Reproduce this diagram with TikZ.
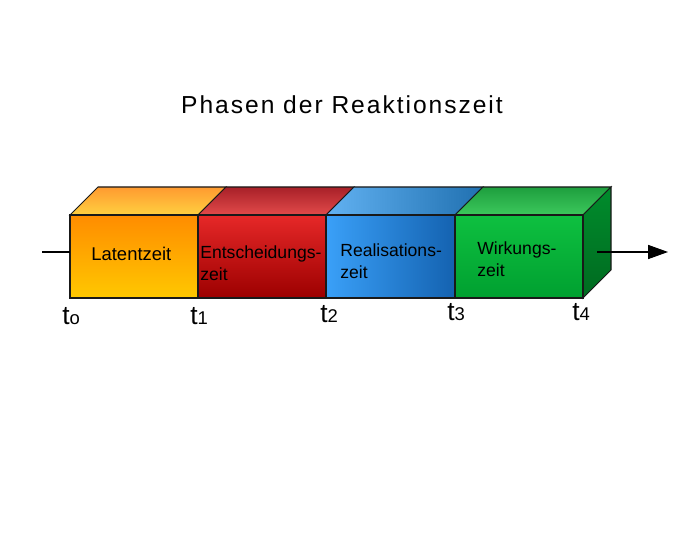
\documentclass[tikz,border=0pt]{standalone}
\usepackage{fontspec}
\setmainfont{Liberation Sans}
\newfontfamily\titlefont[LetterSpace=8]{Liberation Sans}
\usetikzlibrary{arrows.meta}

\definecolor{latentA}{HTML}{FF8C00}
\definecolor{latentB}{HTML}{FFC800}
\definecolor{latentTopA}{HTML}{FF9A30}
\definecolor{latentTopB}{HTML}{FFD040}
\definecolor{entA}{HTML}{E62828}
\definecolor{entB}{HTML}{9C0000}
\definecolor{entTopA}{HTML}{A82028}
\definecolor{entTopB}{HTML}{E24A4A}
\definecolor{realA}{HTML}{3AA0F8}
\definecolor{realB}{HTML}{1462B0}
\definecolor{realTopA}{HTML}{62B2F2}
\definecolor{realTopB}{HTML}{2070B0}
\definecolor{wirkA}{HTML}{0EC040}
\definecolor{wirkB}{HTML}{00A030}
\definecolor{wirkTopA}{HTML}{1E9E3E}
\definecolor{wirkTopB}{HTML}{3CC85C}
\definecolor{wirkSideA}{HTML}{008C2C}
\definecolor{wirkSideB}{HTML}{006A20}

\tikzset{
  face/.style={draw=black!90, line width=0.6pt},
  phase/.style={anchor=north west, inner sep=0pt, align=left, font=\fontsize{10}{12.5}\selectfont},
  tmark/.style={anchor=base west, inner sep=0pt, font=\fontsize{15}{15}\selectfont},
}
\newcommand{\tsub}[1]{t{\fontsize{10.5}{10.5}\selectfont #1}}

\begin{document}
\begin{tikzpicture}[x=0.02cm, y=-0.02cm]
\useasboundingbox (0,0) rectangle (694,540);

\node[font=\titlefont\fontsize{14}{14}\selectfont] (title) at (342,105) {Phasen der Reaktionszeit};

% top faces
\shadedraw[face, top color=latentTopA, bottom color=latentTopB] (70,215) -- (98,187) -- (226,187) -- (198,215) -- cycle;
\shadedraw[face, top color=entTopA, bottom color=entTopB] (198,215) -- (226,187) -- (354,187) -- (326,215) -- cycle;
\shadedraw[face, left color=realTopA, right color=realTopB] (326,215) -- (354,187) -- (483,187) -- (455,215) -- cycle;
\shadedraw[face, top color=wirkTopA, bottom color=wirkTopB] (455,215) -- (483,187) -- (611,187) -- (583,215) -- cycle;

% right side
\shadedraw[face, top color=wirkSideA, bottom color=wirkSideB] (583,215) -- (611,187) -- (611,270) -- (583,298) -- cycle;

% front faces
\shadedraw[face, top color=latentA, bottom color=latentB] (70,215) rectangle (198,298);
\shadedraw[face, top color=entA, bottom color=entB] (198,215) rectangle (326,298);
\shadedraw[face, left color=realA, right color=realB] (326,215) rectangle (455,298);
\shadedraw[face, top color=wirkA, bottom color=wirkB] (455,215) rectangle (583,298);

\node[phase, font=\fontsize{10.5}{12.5}\selectfont] (latent) at (91,247) {Latentzeit};
\node[phase] (ent) at (200,245) {Entscheidungs-\\zeit};
\node[phase] (real) at (340,243) {Realisations-\\zeit};
\node[phase] (wirk) at (477,241) {Wirkungs-\\zeit};

\node[tmark] (t0) at (62,325) {\tsub{o}};
\node[tmark] (t1) at (190,325) {\tsub{1}};
\node[tmark] (t2) at (320,323) {\tsub{2}};
\node[tmark] (t3) at (447,321) {\tsub{3}};
\node[tmark] (t4) at (572,321) {\tsub{4}};

\coordinate (inA) at (42,252);
\coordinate (inB) at (70,252);
\coordinate (outA) at (597,252);
\coordinate (outB) at (668,252);
\draw[line width=0.6pt] (inA) -- (inB);
\draw[line width=0.6pt, -{Triangle[length=11.3pt, width=8pt]}] (outA) -- (outB);

\end{tikzpicture}
\end{document}
